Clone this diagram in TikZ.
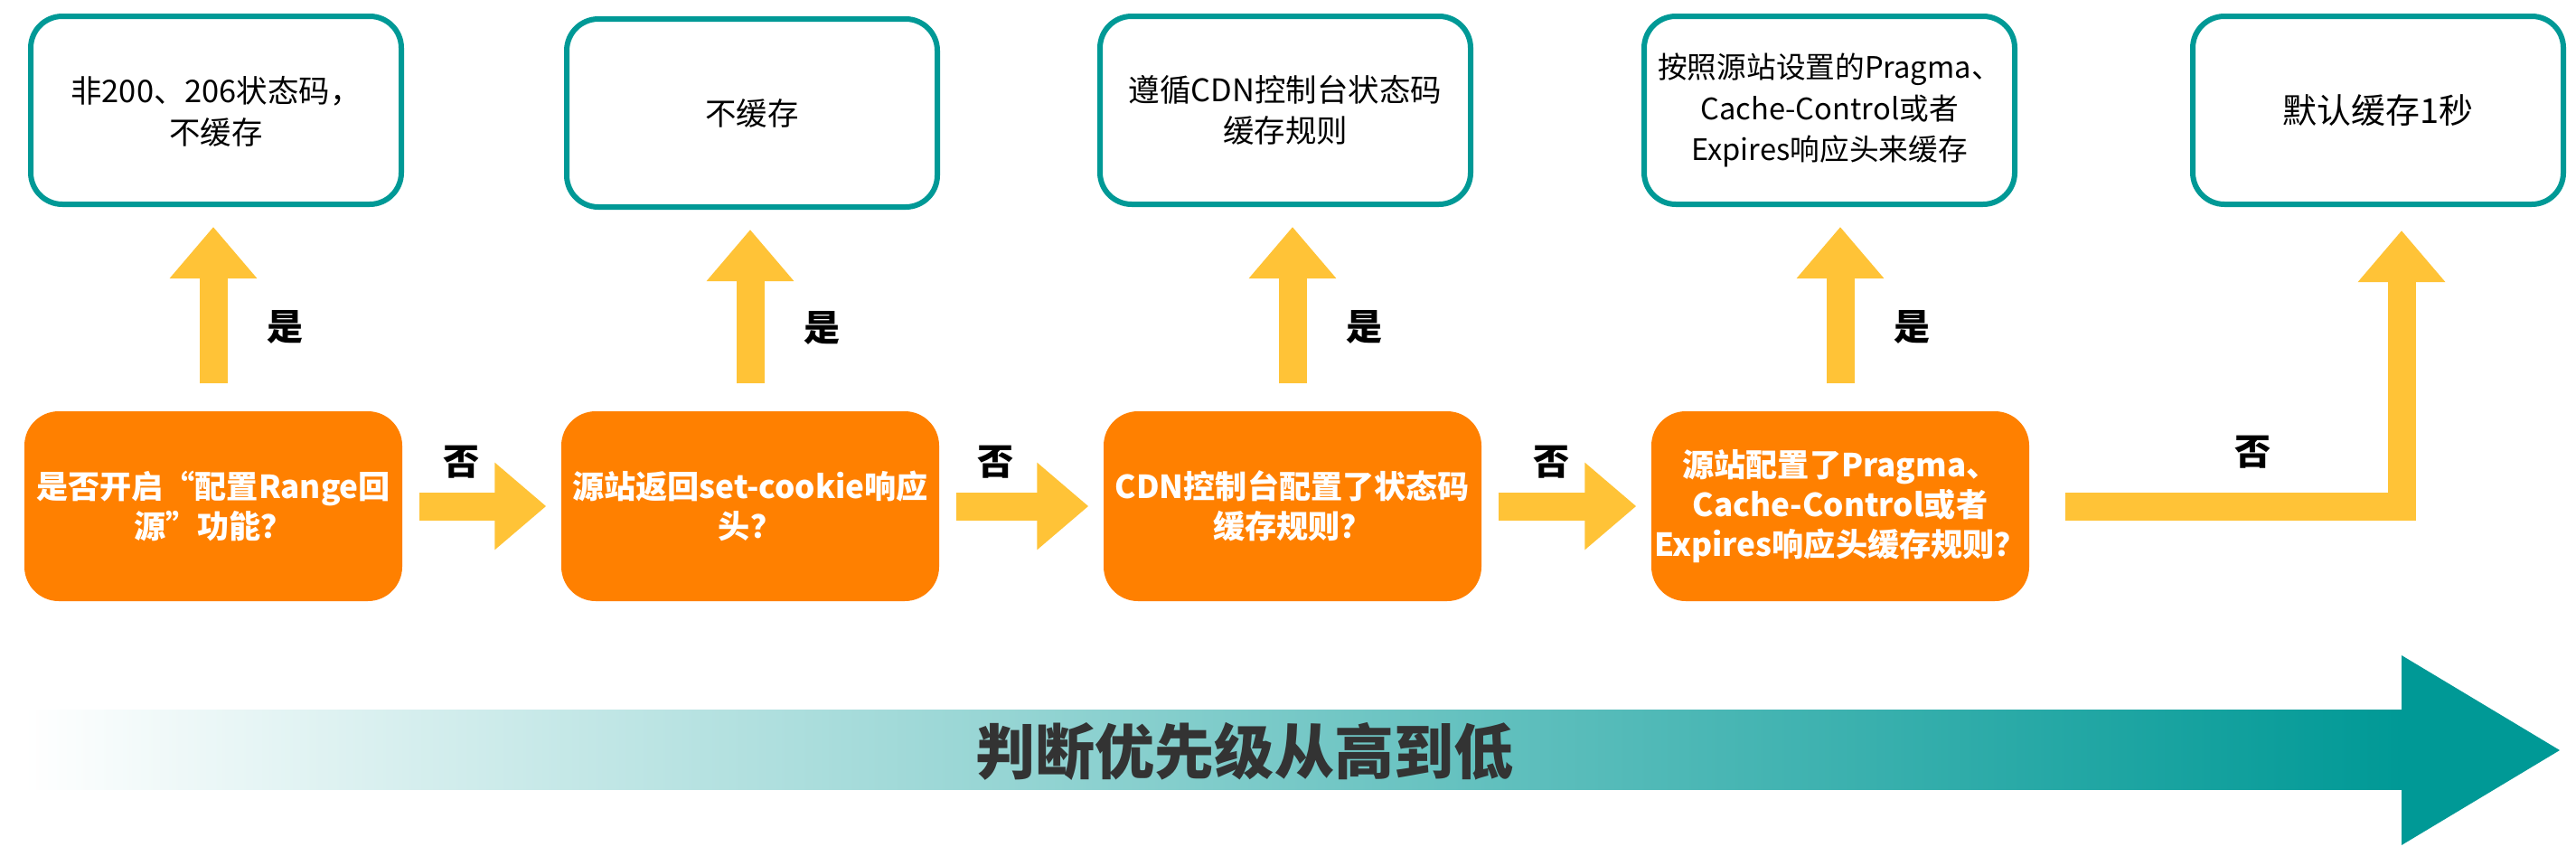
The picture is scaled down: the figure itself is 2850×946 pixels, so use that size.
\documentclass[tikz,border=0pt]{standalone}
\usepackage{fontspec}
\setmainfont{Noto Sans CJK SC}
\usetikzlibrary{arrows.meta}
\definecolor{teal1}{RGB}{0,153,150}
\definecolor{orange1}{RGB}{255,128,0}
\definecolor{yellow1}{RGB}{255,195,55}
\definecolor{gray1}{RGB}{51,51,51}

\begin{document}
\begin{tikzpicture}[x=0.1mm,y=-0.1mm,
    res/.style={draw=teal1,line width=0.6mm,fill=white,rounded corners=3.5mm,minimum width=41mm,minimum height=20.8mm,inner sep=0pt,align=center,font=\fontsize{9.8}{13}\selectfont},
    cond/.style={fill=orange1,rounded corners=3.8mm,minimum width=41.8mm,minimum height=21mm,inner sep=0pt,align=center,text=white,font=\fontsize{10}{12.6}\selectfont\bfseries},
    yarrow/.style={draw=yellow1,line width=3.1mm,-{Triangle[width=9.3mm,length=5.7mm]}},
    lbl/.style={inner sep=0pt,font=\fontsize{11.4}{12}\selectfont\bfseries}]
  \useasboundingbox (0,0) rectangle (2850,946);
  \node[res,text depth=-2.6mm] (b1) at (239,122) {非200、206状态码，\\不缓存};
  \node[res] (b2) at (832,125) {不缓存};
  \node[res] (b3) at (1422,122) {遵循CDN控制台状态码\\缓存规则};
  \node[res,font=\fontsize{9.3}{13}\selectfont] (b4) at (2024,122) {按照源站设置的Pragma、\\Cache-Control或者\\Expires响应头来缓存};
  \node[res,font=\fontsize{10.8}{14}\selectfont] (b5) at (2631,122) {默认缓存1秒};
  \node[cond] (o1) at (236,560) {是否开启“配置Range回\\源”功能？};
  \node[cond] (o2) at (830,560) {源站返回set-cookie响应\\头？};
  \node[cond] (o3) at (1430,560) {CDN控制台配置了状态码\\缓存规则？};
  \node[cond] (o4) at (2036,560) {源站配置了Pragma、\\Cache-Control或者\\Expires响应头缓存规则？};
  \draw[yarrow,shorten <=3mm,shorten >=2.2mm] (o1.north) -- (o1.north |- b1.south) node[lbl,right=4.4mm,pos=0.41] (yes1) {是};
  \draw[yarrow,shorten <=3mm,shorten >=2.2mm] (o2.north) -- (o2.north |- b2.south) node[lbl,right=4.4mm,pos=0.41] (yes2) {是};
  \draw[yarrow,shorten <=3mm,shorten >=2.2mm] (o3.north) -- (o3.north |- b3.south) node[lbl,right=4.4mm,pos=0.41] (yes3) {是};
  \draw[yarrow,shorten <=3mm,shorten >=2.2mm] (o4.north) -- (o4.north |- b4.south) node[lbl,right=4.4mm,pos=0.41] (yes4) {是};
  \draw[yarrow,shorten <=1.8mm,shorten >=1.6mm] (o1.east) -- (o2.west) node[lbl,above=1.5mm,pos=0.37] (no1) {否};
  \draw[yarrow,shorten <=1.8mm,shorten >=1.6mm] (o2.east) -- (o3.west) node[lbl,above=1.5mm,pos=0.34] (no2) {否};
  \draw[yarrow,shorten <=1.8mm,shorten >=1.6mm] (o3.east) -- (o4.west) node[lbl,above=1.5mm,pos=0.41] (no3) {否};
  \draw[yarrow,shorten <=3.9mm,shorten >=2.6mm] (o4.east) -| ([xshift=2.6mm]b5.south) node[lbl,above=2.6mm,pos=0.3] (no4) {否};
  \shade[left color=white,right color=teal1] (27,785) rectangle (2657,873);
  \fill[teal1] (2657,725) -- (2832,830) -- (2657,935) -- cycle;
  \node[font=\fontsize{18.8}{20}\selectfont\bfseries,text=gray1] (prio) at (1377,831) {判断优先级从高到低};
\end{tikzpicture}
\end{document}
